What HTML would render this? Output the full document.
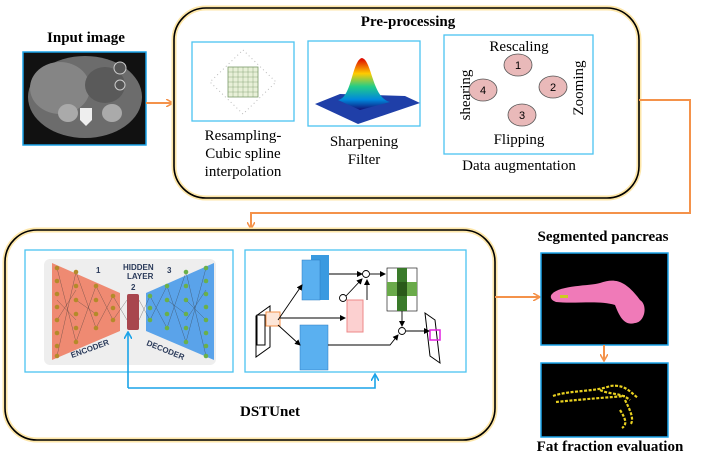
<!DOCTYPE html>
<html><head><meta charset="utf-8"><style>
html,body{margin:0;padding:0;background:#fff;width:708px;height:455px;overflow:hidden}
svg text{font-family:"Liberation Serif",serif}
</style></head><body>
<svg width="708" height="455" viewBox="0 0 708 455" xmlns="http://www.w3.org/2000/svg">
<defs>
<linearGradient id="g1" x1="0" y1="0" x2="0" y2="1"><stop offset="0" stop-color="#d00"/><stop offset=".3" stop-color="#fc0"/><stop offset=".55" stop-color="#2c8"/><stop offset=".8" stop-color="#08d"/><stop offset="1" stop-color="#117"/></linearGradient>
<marker id="ao" markerWidth="8" markerHeight="8" refX="7" refY="4" orient="auto" markerUnits="userSpaceOnUse"><path d="M0,0 L7,4 L0,8" fill="none" stroke="#f4924a" stroke-width="1.6"/></marker>
<marker id="ab" markerWidth="8" markerHeight="8" refX="7" refY="4" orient="auto" markerUnits="userSpaceOnUse"><path d="M0,0 L7,4 L0,8" fill="none" stroke="#1aa3e8" stroke-width="1.6"/></marker>
<marker id="ak" markerWidth="6" markerHeight="6" refX="5" refY="3" orient="auto" markerUnits="userSpaceOnUse"><path d="M0,0 L6,3 L0,6z" fill="#000"/></marker>
</defs>

<!-- Input image -->
<text x="86" y="42" font-size="15" font-weight="bold" text-anchor="middle">Input image</text>
<rect x="23" y="52" width="123" height="93" fill="#111" stroke="#1aa3e8" stroke-width="1.5"/>
<ellipse cx="85" cy="97" rx="57" ry="41" fill="#6c6c6c"/>
<ellipse cx="60" cy="88" rx="30" ry="26" fill="#858585"/>
<ellipse cx="105" cy="85" rx="20" ry="18" fill="#5a5a5a"/>
<ellipse cx="68" cy="113" rx="10" ry="9" fill="#aaa"/>
<ellipse cx="112" cy="113" rx="10" ry="9" fill="#aaa"/>
<path d="M80 108 h12 v12 l-6 6 l-6 -6z" fill="#eee"/>
<circle cx="120" cy="68" r="6" fill="#555" stroke="#ccc"/>
<circle cx="120" cy="85" r="5" fill="#555" stroke="#ccc"/>
<line x1="146" y1="103" x2="173" y2="103" stroke="#f4924a" stroke-width="2" marker-end="url(#ao)"/>

<!-- Pre-processing -->
<rect x="174" y="8" width="465" height="190" rx="32" fill="#fff" stroke="#fde6a8" stroke-width="5"/>
<rect x="174" y="8" width="465" height="190" rx="32" fill="none" stroke="#000" stroke-width="1.6"/>
<text x="408" y="26" font-size="15" font-weight="bold" text-anchor="middle">Pre-processing</text>
<rect x="192" y="42" width="102" height="79" fill="#fff" stroke="#4cc4f0" stroke-width="1.3"/>
<path d="M243 50 L276 82 L243 114 L210 82z" fill="none" stroke="#bbb" stroke-dasharray="1 3"/>
<rect x="228" y="67" width="30" height="30" fill="#e8f0d8" stroke="#7a9a6a" stroke-width=".8"/>
<path d="M233 67v30M238 67v30M243 67v30M248 67v30M253 67v30M228 72h30M228 77h30M228 82h30M228 87h30M228 92h30" stroke="#7a9a6a" stroke-width=".4"/>
<text x="243" y="140" font-size="15" text-anchor="middle">Resampling-</text>
<text x="243" y="158" font-size="15" text-anchor="middle">Cubic spline</text>
<text x="243" y="176" font-size="15" text-anchor="middle">interpolation</text>

<rect x="308" y="41" width="112" height="85" fill="#fff" stroke="#4cc4f0" stroke-width="1.3"/>
<path d="M315 104 L340 94 L405 96 L420 103 L358 124z" fill="#1f3fa8"/>
<path d="M338 100 C352 98 352 60 362 58 C372 60 372 98 390 102 L360 110z" fill="url(#g1)"/>
<text x="364" y="146" font-size="15" text-anchor="middle">Sharpening</text>
<text x="364" y="164" font-size="15" text-anchor="middle">Filter</text>

<rect x="444" y="35" width="149" height="119" fill="#fff" stroke="#4cc4f0" stroke-width="1.3"/>
<text x="519" y="51" font-size="15" text-anchor="middle">Rescaling</text>
<text x="519" y="144" font-size="15" text-anchor="middle">Flipping</text>
<text transform="translate(470,95) rotate(-90)" font-size="15" text-anchor="middle">shearing</text>
<text transform="translate(583,88) rotate(-90)" font-size="15" text-anchor="middle">Zooming</text>
<g fill="#e9b9b9" stroke="#555" stroke-width=".8">
<ellipse cx="518" cy="65" rx="14" ry="11"/><ellipse cx="553" cy="87" rx="14" ry="11"/>
<ellipse cx="522" cy="115" rx="14" ry="11"/><ellipse cx="483" cy="90" rx="14" ry="11"/></g>
<g font-size="11" text-anchor="middle">
<text x="518" y="69" style="font-family:'Liberation Sans'">1</text><text x="553" y="91" style="font-family:'Liberation Sans'">2</text>
<text x="522" y="119" style="font-family:'Liberation Sans'">3</text><text x="483" y="94" style="font-family:'Liberation Sans'">4</text></g>
<text x="519" y="170" font-size="15" text-anchor="middle">Data augmentation</text>

<!-- connector -->
<polyline points="639,100 690,100 690,213 251,213 251,229" fill="none" stroke="#f4924a" stroke-width="2" marker-end="url(#ao)"/>

<!-- Bottom box -->
<rect x="5" y="230" width="490" height="210" rx="32" fill="#fff" stroke="#fde6a8" stroke-width="5"/>
<rect x="5" y="230" width="490" height="210" rx="32" fill="none" stroke="#000" stroke-width="1.6"/>
<rect x="25" y="250" width="208" height="122" fill="#fff" stroke="#4cc4f0" stroke-width="1.3"/>
<rect x="44" y="259" width="172" height="106" rx="6" fill="#eeeeee"/>
<path d="M52 263 L120 293 L120 331 L52 360z" fill="#ef8a72"/>
<path d="M214 263 L146 293 L146 331 L214 360z" fill="#5aa3ea"/>
<g stroke="#333" stroke-width=".4" opacity=".7">
<path d="M57 268 L76 342 M57 356 L76 272 M57 300 L76 320 M57 320 L76 290 M76 272 L96 328 M76 342 L96 286 M76 300 L96 314 M96 286 L113 320 M96 328 L113 296 M113 296 L127 320 M113 320 L127 300 M139 300 L150 320 M139 320 L150 296 M150 296 L167 328 M150 320 L167 286 M167 286 L186 342 M167 328 L186 272 M167 300 L186 314 M186 272 L206 356 M186 342 L206 268 M186 300 L206 320 M186 320 L206 290"/>
</g>
<g fill="#b48a2a"><circle cx="57" cy="268" r="2.3"/><circle cx="57" cy="281" r="2.3"/><circle cx="57" cy="294" r="2.3"/><circle cx="57" cy="307" r="2.3"/><circle cx="57" cy="320" r="2.3"/><circle cx="57" cy="333" r="2.3"/><circle cx="57" cy="346" r="2.3"/><circle cx="57" cy="356" r="2.3"/>
<circle cx="76" cy="272" r="2.3"/><circle cx="76" cy="286" r="2.3"/><circle cx="76" cy="300" r="2.3"/><circle cx="76" cy="314" r="2.3"/><circle cx="76" cy="328" r="2.3"/><circle cx="76" cy="342" r="2.3"/>
<circle cx="96" cy="286" r="2.3"/><circle cx="96" cy="300" r="2.3"/><circle cx="96" cy="314" r="2.3"/><circle cx="96" cy="328" r="2.3"/>
<circle cx="113" cy="296" r="2.3"/><circle cx="113" cy="308" r="2.3"/><circle cx="113" cy="320" r="2.3"/></g>
<rect x="127" y="294" width="12" height="36" rx="2" fill="#a8464e"/>
<g fill="#6ab04a"><circle cx="150" cy="296" r="2.3"/><circle cx="150" cy="308" r="2.3"/><circle cx="150" cy="320" r="2.3"/>
<circle cx="167" cy="286" r="2.3"/><circle cx="167" cy="300" r="2.3"/><circle cx="167" cy="314" r="2.3"/><circle cx="167" cy="328" r="2.3"/>
<circle cx="186" cy="272" r="2.3"/><circle cx="186" cy="286" r="2.3"/><circle cx="186" cy="300" r="2.3"/><circle cx="186" cy="314" r="2.3"/><circle cx="186" cy="328" r="2.3"/><circle cx="186" cy="342" r="2.3"/>
<circle cx="206" cy="268" r="2.3"/><circle cx="206" cy="281" r="2.3"/><circle cx="206" cy="294" r="2.3"/><circle cx="206" cy="307" r="2.3"/><circle cx="206" cy="320" r="2.3"/><circle cx="206" cy="333" r="2.3"/><circle cx="206" cy="346" r="2.3"/><circle cx="206" cy="356" r="2.3"/></g>
<g font-weight="bold" fill="#2a3a5a" font-size="8">
<text x="123" y="270" style="font-family:'Liberation Sans'">HIDDEN</text><text x="127" y="279" style="font-family:'Liberation Sans'">LAYER</text>
<text x="96" y="273" style="font-family:'Liberation Sans'">1</text><text x="131" y="290" style="font-family:'Liberation Sans'">2</text><text x="167" y="273" style="font-family:'Liberation Sans'">3</text>
<text transform="translate(72,358) rotate(-20)" style="font-family:'Liberation Sans'">ENCODER</text>
<text transform="translate(146,345) rotate(22)" style="font-family:'Liberation Sans'">DECODER</text></g>

<rect x="245" y="250" width="221" height="122" fill="#fff" stroke="#4cc4f0" stroke-width="1.3"/>
<path d="M256 316 L270 306 L270 347 L256 357z" fill="#fff" stroke="#000" stroke-width="1"/>
<rect x="257" y="315" width="8" height="30" fill="none" stroke="#000"/>
<rect x="266" y="312" width="14" height="14" fill="#fde6d8" stroke="#f4924a"/>
<rect x="311" y="255" width="18" height="45" fill="#3a9ae0"/><rect x="302" y="260" width="18" height="40" fill="#5ab0f0" stroke="#2a7ac0" stroke-width=".5"/>
<rect x="300" y="325" width="28" height="45" fill="#5ab0f0" stroke="#2a7ac0" stroke-width=".5"/>
<rect x="347" y="300" width="16" height="32" fill="#fcd0d0" stroke="#e88"/>
<rect x="387" y="268" width="30" height="43" fill="#fff" stroke="#000" stroke-width=".6"/>
<rect x="397" y="268" width="10" height="43" fill="#3a7a2a"/><rect x="387" y="282" width="30" height="14" fill="#6aaa4a"/><rect x="397" y="282" width="10" height="14" fill="#2a5a1a"/>
<path d="M425 313 L435 320 L440 363 L430 356z" fill="#fff" stroke="#000"/>
<rect x="430" y="330" width="10" height="10" fill="none" stroke="#e020e0" stroke-width="1.5"/>
<g stroke="#000" stroke-width=".9" fill="none">
<line x1="278" y1="320" x2="302" y2="285" marker-end="url(#ak)"/>
<line x1="278" y1="325" x2="300" y2="345" marker-end="url(#ak)"/>
<line x1="280" y1="318" x2="345" y2="318" marker-end="url(#ak)"/>
<line x1="329" y1="274" x2="362" y2="274" marker-end="url(#ak)"/>
<circle cx="366" cy="274" r="3.5"/><line x1="370" y1="274" x2="385" y2="274" marker-end="url(#ak)"/>
<circle cx="343" cy="298" r="3.5"/><line x1="346" y1="296" x2="362" y2="279" marker-end="url(#ak)"/>
<line x1="367" y1="300" x2="367" y2="280" marker-end="url(#ak)"/>
<circle cx="402" cy="331" r="3.5"/><line x1="402" y1="311" x2="402" y2="326" marker-end="url(#ak)"/>
<polyline points="328,345 390,345 398,335" marker-end="url(#ak)"/>
<line x1="406" y1="331" x2="429" y2="331" marker-end="url(#ak)"/>
</g>
<polyline points="128,388 128,332" fill="none" stroke="#1aa3e8" stroke-width="1.6" marker-end="url(#ab)"/>
<polyline points="128,388 375,388 375,374" fill="none" stroke="#1aa3e8" stroke-width="1.6" marker-end="url(#ab)"/>
<text x="270" y="416" font-size="15" font-weight="bold" text-anchor="middle">DSTUnet</text>
<line x1="495" y1="297" x2="540" y2="297" stroke="#f4924a" stroke-width="2" marker-end="url(#ao)"/>

<!-- outputs -->
<text x="603" y="241" font-size="15" font-weight="bold" text-anchor="middle">Segmented pancreas</text>
<rect x="541" y="253" width="127" height="92" fill="#000" stroke="#1aa3e8" stroke-width="1.5"/>
<path d="M552 294 C560 285 590 286 600 283 C615 278 625 280 640 300 C648 305 645 322 635 323 C625 326 620 318 615 305 C600 300 575 304 556 302 C550 300 550 296 552 294z" fill="#f07ab8"/>
<rect x="560" y="295" width="8" height="3" fill="#cc2"/>
<line x1="604" y1="345" x2="604" y2="361" stroke="#f4924a" stroke-width="2" marker-end="url(#ao)"/>
<rect x="541" y="363" width="127" height="74" fill="#000" stroke="#1aa3e8" stroke-width="1.5"/>
<g stroke="#e8d020" stroke-width="2.2" fill="none" stroke-dasharray="3 1.5">
<path d="M553 396 C570 390 595 392 610 386 C625 384 630 392 638 398"/>
<path d="M556 402 C575 400 600 398 625 396"/>
<path d="M600 390 C610 395 620 392 630 400"/>
<path d="M625 400 C630 410 635 420 630 425"/>
<path d="M620 410 C625 418 628 424 622 428"/>
</g>
<text x="610" y="451" font-size="15" font-weight="bold" text-anchor="middle">Fat fraction evaluation</text>
</svg>
</body></html>
